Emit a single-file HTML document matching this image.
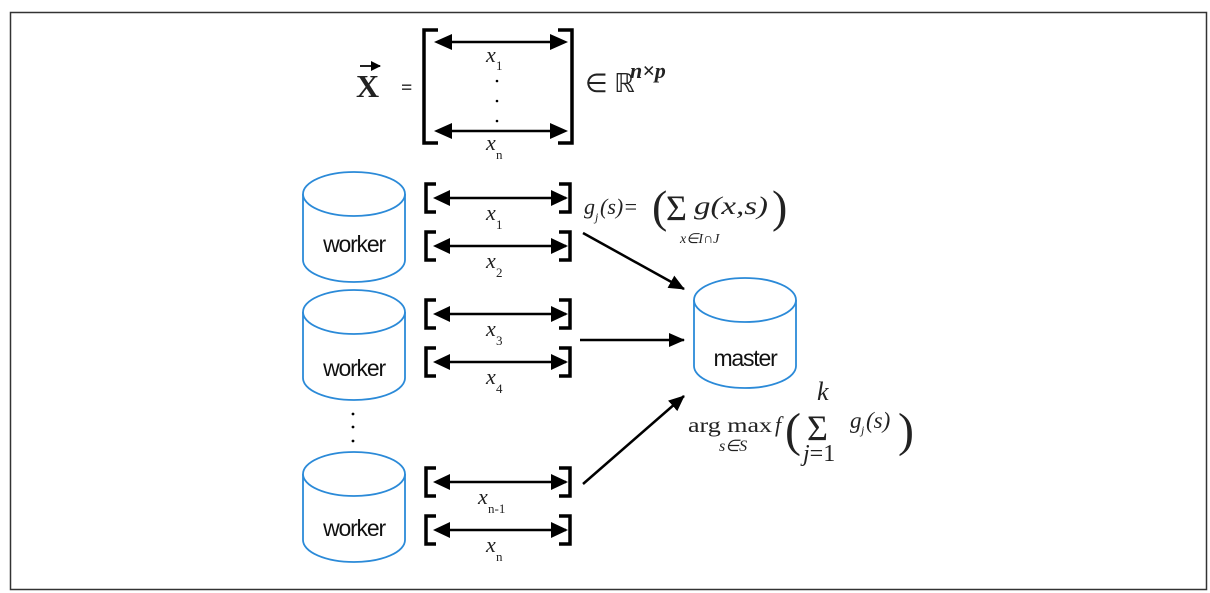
<!DOCTYPE html>
<html><head><meta charset="utf-8"><style>
html,body{margin:0;padding:0;background:#fff;}
svg{display:block;}
.s{font-family:"Liberation Serif",serif;fill:#222;}
.w{font-family:"Liberation Sans",sans-serif;font-size:23px;fill:#111;letter-spacing:-1.2px;}
</style></head><body>
<svg width="1210" height="593" viewBox="0 0 1210 593" xmlns="http://www.w3.org/2000/svg">
<defs>
<marker id="ah" markerWidth="10" markerHeight="10" refX="9" refY="5" orient="auto" markerUnits="userSpaceOnUse"><path d="M0,0 L10,5 L0,10 z" fill="#000"/></marker>
<marker id="ah2" markerWidth="16" markerHeight="14" refX="15" refY="7" orient="auto" markerUnits="userSpaceOnUse"><path d="M0,0 L16,7 L0,14 z" fill="#000"/></marker>
<g id="row">
<path d="M436,0 H426 V28 H436" fill="none" stroke="#000" stroke-width="3.5"/>
<path d="M559,0 H570 V28 H559" fill="none" stroke="#000" stroke-width="3.5"/>
<line x1="436" y1="14" x2="566" y2="14" stroke="#000" stroke-width="2.5"/>
<path d="M433,14 L450,6 L450,22 z"/>
<path d="M568,14 L551,6 L551,22 z"/>
</g>
<g id="cyl">
<path d="M0,22 V88 A51,22 0 0 0 102,88 V22" fill="#fff" stroke="#2b8ad8" stroke-width="1.8"/>
<ellipse cx="51" cy="22" rx="51" ry="22" fill="#fff" stroke="#2b8ad8" stroke-width="1.8"/>
</g>
</defs>
<rect x="10.5" y="12.5" width="1196" height="577" fill="#fff" stroke="#333" stroke-width="1.5"/>

<!-- big matrix -->
<path d="M438,30 H424 V143 H438" fill="none" stroke="#000" stroke-width="3.5"/>
<path d="M558,30 H572 V143 H558" fill="none" stroke="#000" stroke-width="3.5"/>
<line x1="440" y1="42" x2="562" y2="42" stroke="#000" stroke-width="2.5"/>
<path d="M434,42 L452,34 L452,50 z"/><path d="M568,42 L550,34 L550,50 z"/>
<line x1="440" y1="131" x2="562" y2="131" stroke="#000" stroke-width="2.5"/>
<path d="M434,131 L452,123 L452,139 z"/><path d="M568,131 L550,123 L550,139 z"/>
<text class="s" x="486" y="62" font-size="22" font-style="italic">x</text><text class="s" x="496" y="70" font-size="13">1</text>
<circle cx="497" cy="81" r="1.3"/><circle cx="497" cy="101" r="1.3"/><circle cx="497" cy="121" r="1.3"/>
<text class="s" x="486" y="150" font-size="22" font-style="italic">x</text><text class="s" x="496" y="159" font-size="13">n</text>
<text class="s" x="356" y="97" font-size="32" font-weight="bold">X</text>
<line x1="360" y1="66" x2="380" y2="66" stroke="#222" stroke-width="2" marker-end="url(#ah)"/>
<text class="s" x="401" y="94" font-size="20" font-weight="bold">=</text>
<text class="s" x="585" y="92" font-size="26">∈ ℝ</text>
<text class="s" x="630" y="78" font-size="22" font-style="italic" font-weight="bold">n×p</text>

<!-- rows -->
<use href="#row" y="184"/><use href="#row" y="232"/><use href="#row" y="300"/><use href="#row" y="348"/><use href="#row" y="468"/><use href="#row" y="516"/>
<g class="s" font-size="22" font-style="italic">
<text x="486" y="220">x</text><text x="486" y="268">x</text><text x="486" y="336">x</text><text x="486" y="384">x</text><text x="478" y="504">x</text><text x="486" y="552">x</text>
</g>
<g class="s" font-size="13">
<text x="496" y="229">1</text><text x="496" y="277">2</text><text x="496" y="345">3</text><text x="496" y="393">4</text><text x="488" y="513">n-1</text><text x="496" y="561">n</text>
</g>

<!-- workers -->
<use href="#cyl" x="303" y="172"/><text class="w" x="354" y="252" text-anchor="middle">worker</text>
<use href="#cyl" x="303" y="290"/><text class="w" x="354" y="376" text-anchor="middle">worker</text>
<use href="#cyl" x="303" y="452"/><text class="w" x="354" y="536" text-anchor="middle">worker</text>
<circle cx="353" cy="414" r="1.4"/><circle cx="353" cy="427" r="1.4"/><circle cx="353" cy="441" r="1.4"/>
<use href="#cyl" x="694" y="278"/><text class="w" x="745" y="366" text-anchor="middle">master</text>

<!-- arrows -->
<line x1="583" y1="233" x2="684" y2="289" stroke="#000" stroke-width="2.5" marker-end="url(#ah2)"/>
<line x1="580" y1="340" x2="684" y2="340" stroke="#000" stroke-width="2.5" marker-end="url(#ah2)"/>
<line x1="583" y1="484" x2="684" y2="396" stroke="#000" stroke-width="2.5" marker-end="url(#ah2)"/>

<!-- formula 1 -->
<text class="s" x="584" y="214" font-size="22" font-style="italic" fill="#444">g</text>
<text class="s" x="595" y="221" font-size="12" font-style="italic" fill="#444">j</text>
<text class="s" x="600" y="214" font-size="22" font-style="italic" fill="#444">(s)=</text>
<text class="s" x="652" y="222" font-size="46" fill="#333">(</text>
<text class="s" x="666" y="220" font-size="36" fill="#333">Σ</text>
<text class="s" x="694" y="214" font-size="25" font-style="italic" fill="#333" textLength="74" lengthAdjust="spacingAndGlyphs">g(x,s)</text>
<text class="s" x="772" y="222" font-size="46" fill="#333">)</text>
<text class="s" x="680" y="243" font-size="14" font-style="italic" fill="#444">x∈I∩J</text>

<!-- formula 2 -->
<text class="s" x="688" y="432" font-size="21" fill="#333" textLength="84" lengthAdjust="spacingAndGlyphs">arg max</text>
<text class="s" x="719" y="451" font-size="16" font-style="italic" fill="#333">s∈S</text>
<text class="s" x="775" y="432" font-size="22" font-style="italic" fill="#333">f</text>
<text class="s" x="785" y="446" font-size="48" fill="#333">(</text>
<text class="s" x="817" y="400" font-size="26" font-style="italic" fill="#333">k</text>
<text class="s" x="807" y="440" font-size="36" fill="#333">Σ</text>
<text class="s" x="803" y="461" font-size="24" fill="#333"><tspan font-style="italic">j</tspan>=1</text>
<text class="s" x="850" y="428" font-size="23" font-style="italic" fill="#333">g</text>
<text class="s" x="861" y="434" font-size="12" font-style="italic" fill="#333">j</text>
<text class="s" x="866" y="428" font-size="23" font-style="italic" fill="#333">(s)</text>
<text class="s" x="898" y="446" font-size="48" fill="#333">)</text>
</svg>
</body></html>
